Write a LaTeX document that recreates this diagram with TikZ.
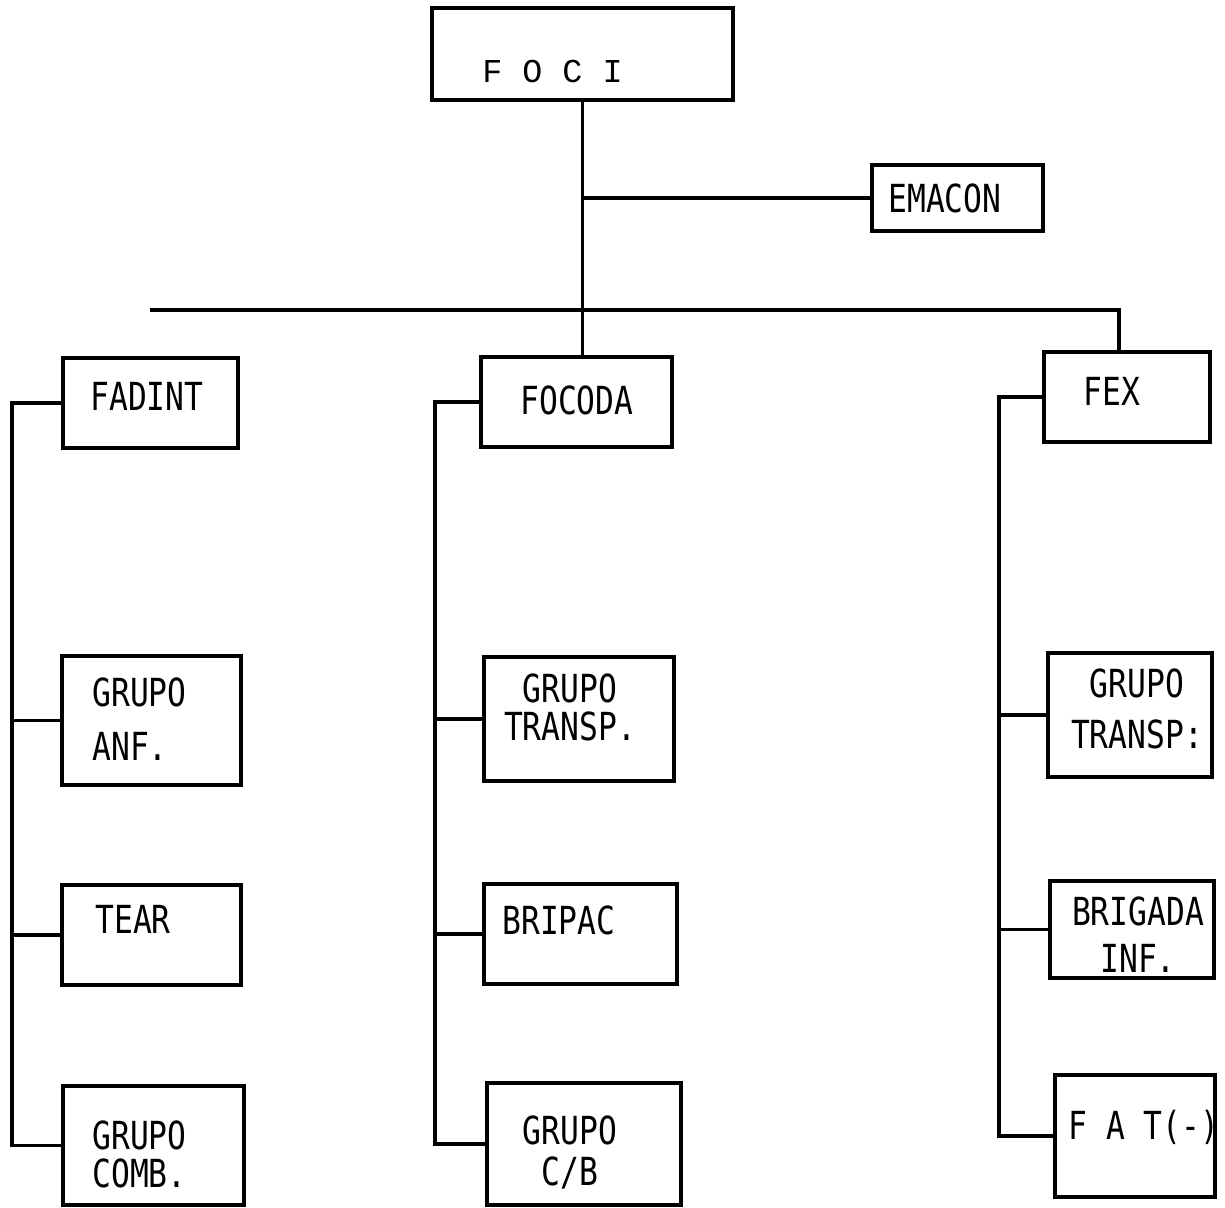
\documentclass[tikz,border=0pt]{standalone}
\usepackage{fontspec}
\newfontfamily\typefont[FakeStretch=0.81]{DejaVu Sans Mono}
\newfontfamily\headfont{Liberation Mono}
\usetikzlibrary{fit}
\begin{document}
\begin{tikzpicture}[x=0.02cm, y=-0.02cm,
      box/.style={draw,line width=1.8pt,inner sep=0},
      txt/.style={inner sep=0,anchor=north west,align=left,
        font={\typefont\fontsize{22pt}{22pt}\selectfont}},
      ctxt/.style={txt,anchor=north,align=center},
      wire/.style={line width=2pt} ]
      \useasboundingbox (0,0) rectangle (1225,1208);

      % boxes
      \node[box, fit={(432,8) (733,100)}] (foci) {};
      \node[box, fit={(872,165) (1043,231)}] (emacon) {};
      \node[box, fit={(63,358) (238,448)}] (fadint) {};
      \node[box, fit={(481,357) (672,447)}] (focoda) {};
      \node[box, fit={(1044,352) (1210,442)}] (fex) {};
      \node[box, fit={(62,656) (241,785)}] (anf) {};
      \node[box, fit={(62,885) (241,985)}] (tear) {};
      \node[box, fit={(63,1086) (244,1205)}] (comb) {};
      \node[box, fit={(484,657) (674,781)}] (transpc) {};
      \node[box, fit={(484,884) (677,984)}] (bripac) {};
      \node[box, fit={(487,1083) (681,1205)}] (cb) {};
      \node[box, fit={(1048,653) (1212,777)}] (transpr) {};
      \node[box, fit={(1050,881) (1214,978)}] (brigada) {};
      \node[box, fit={(1055,1075) (1215,1197)}] (fat) {};

      % texts
      \node[inner sep=0,anchor=north west,font={\headfont\fontsize{19pt}{20pt}\selectfont}]
        (foci-t) at (482,60) {F O C I};
      \node[txt] (emacon-t) at (888,183) {EMACON};
      \node[txt] (fadint-t) at (90,382) {FADINT};
      \node[txt] (focoda-t) at (520,385) {FOCODA};
      \node[txt] (fex-t) at (1083,377) {FEX};
      \node[txt] (anf-t) at (92,677) {GRUPO\\[0.32cm]ANF.};
      \node[txt] (tear-t) at (95,905) {TEAR};
      \node[txt] (comb-t) at (92,1120) {GRUPO\\COMB.};
      \node[ctxt] (transpc-t) at (570,673) {GRUPO\\TRANSP.};
      \node[txt] (bripac-t) at (502,905) {BRIPAC};
      \node[ctxt] (cb-t) at (570,1115) {GRUPO\\[0.06cm]C/B};
      \node[ctxt] (transpr-t) at (1137,668) {GRUPO\\[0.26cm]TRANSP:};
      \node[ctxt] (brigada-t) at (1138,896) {BRIGADA\\[0.18cm]INF.};
      \node[txt] (fat-t) at (1068,1110) {F A T(-)};

      % joints
      \coordinate (bus-l) at (150,310);
      \coordinate (bus-r) at (1119,310);
      \coordinate (spine-l) at (12,0);
      \coordinate (spine-c) at (435,0);
      \coordinate (spine-r) at (999,0);

      % lines
      \draw[wire] (foci.south) -- (foci.south |- focoda.north);
      \draw[wire] (emacon.west) -- (emacon.west -| foci.south);
      \draw[wire] (bus-l) -- (bus-r) -- (bus-r |- fex.north);

      \draw[wire] (fadint.west) -| (spine-l |- comb.west) -- (comb.west);
      \draw[wire] (spine-l |- anf.west) -- (anf.west);
      \draw[wire] (spine-l |- tear.west) -- (tear.west);

      \draw[wire] (focoda.west) -| (spine-c |- cb.west) -- (cb.west);
      \draw[wire] (spine-c |- transpc.west) -- (transpc.west);
      \draw[wire] (spine-c |- bripac.west) -- (bripac.west);

      \draw[wire] (fex.west) -| (spine-r |- fat.west) -- (fat.west);
      \draw[wire] (spine-r |- transpr.west) -- (transpr.west);
      \draw[wire] (spine-r |- brigada.west) -- (brigada.west);
    \end{tikzpicture}
\end{document}
